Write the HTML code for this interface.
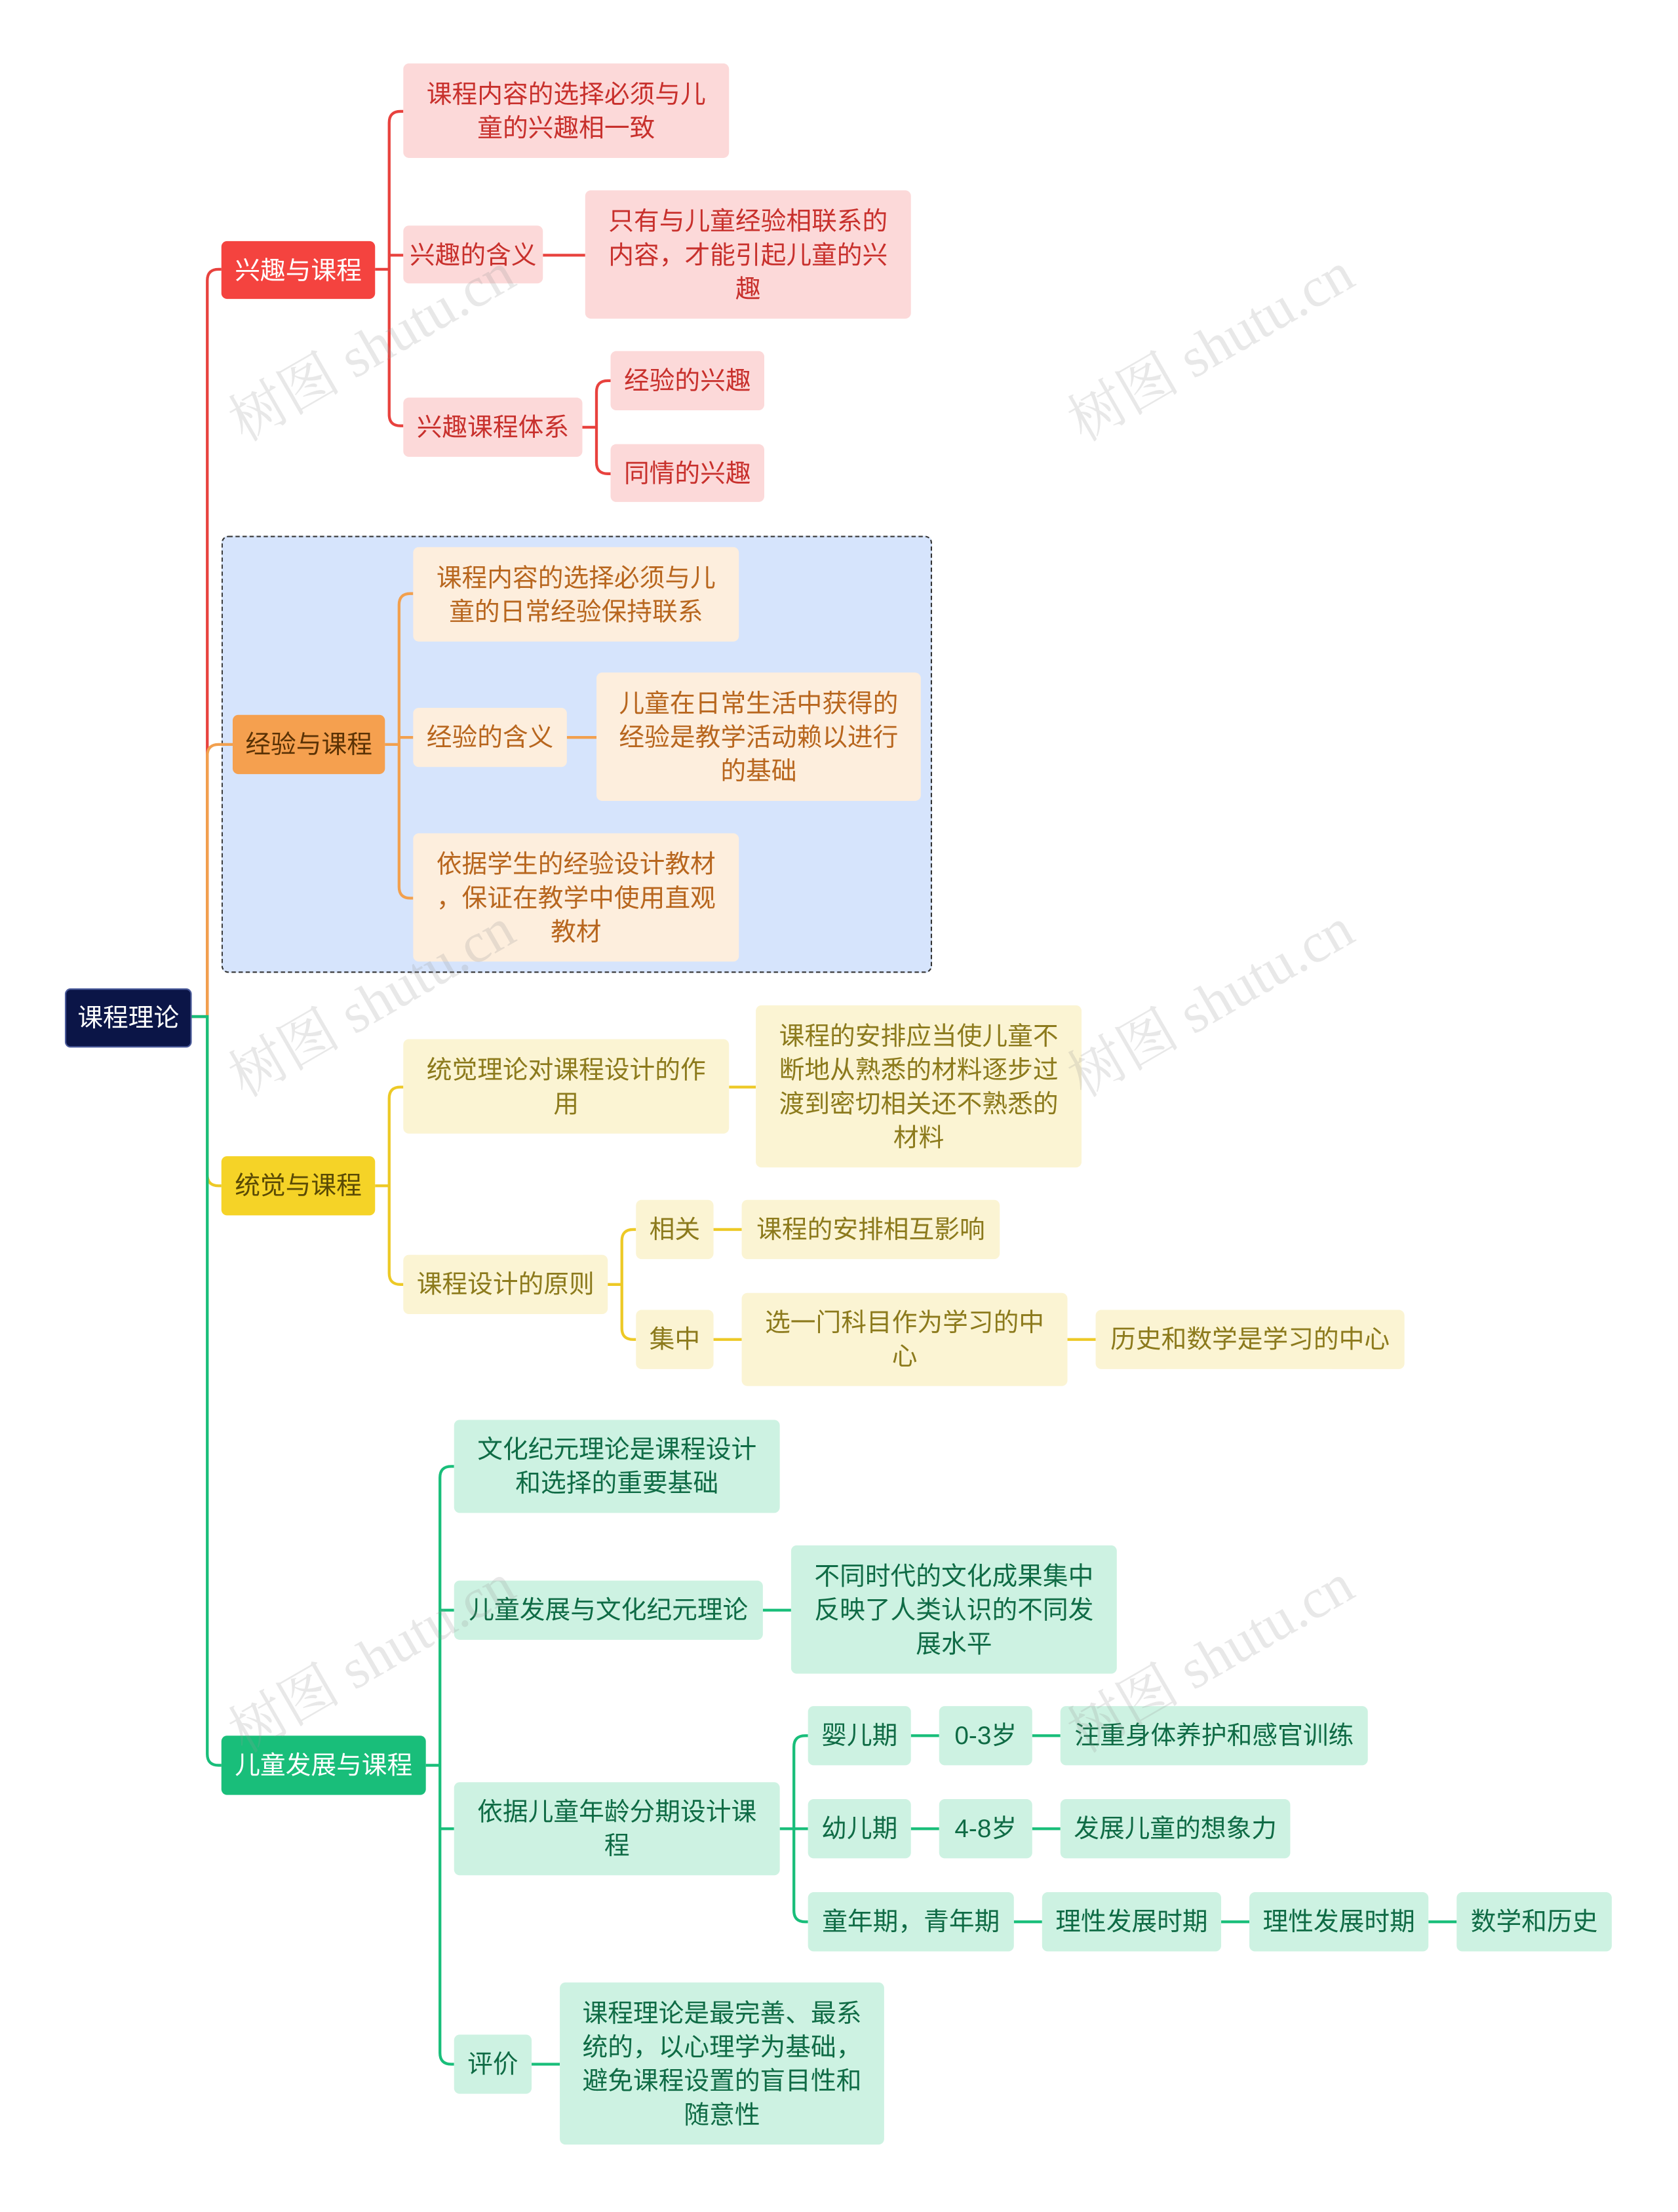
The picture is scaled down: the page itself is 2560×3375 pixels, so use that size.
<!DOCTYPE html>
<html><head><meta charset="utf-8"><style>
html,body{margin:0;padding:0;background:#fff;}
body{width:2560px;height:3375px;overflow:hidden;position:relative;}
#c{position:absolute;left:0;top:0;width:1190px;height:1569px;transform:scale(2.1513);transform-origin:0 0;font-family:"Liberation Sans","Noto Sans CJK SC",sans-serif;}
.n{position:absolute;box-sizing:border-box;display:flex;align-items:center;justify-content:center;text-align:center;font-size:18px;line-height:24px;border-radius:4px;padding:0 2px;white-space:nowrap;}
.r{background:#fcd9d9;color:#c8302c;}
.o{background:#fdeedd;color:#b8661e;}
.y{background:#fbf4d3;color:#8c7a1c;}
.g{background:#cdf2e2;color:#0f6b45;}
.wm{position:absolute;font-size:40px;color:rgba(150,150,150,0.22);transform:rotate(-30deg);white-space:nowrap;font-family:"Liberation Serif","Noto Serif CJK SC",serif;}
</style></head><body><div id="c">
<div style="position:absolute;left:157px;top:380px;width:504px;height:310px;box-sizing:border-box;background:#d6e4fc;border:1.5px dashed #333;border-radius:5px"></div>
<svg width="1190" height="1569" style="position:absolute;left:0;top:0" fill="none" stroke-width="2">
<g stroke="#e8423e">
<path d="M136,721 H147 V199 Q147,191 155,191 H157"/>
<path d="M266,191 H276"/>
<path d="M286,79 H284 Q276,79 276,87 V294 Q276,302 284,302 H286"/>
<path d="M276,181 H286"/>
<path d="M385,181 H415"/>
<path d="M413,303 H423"/>
<path d="M433,270 H431 Q423,270 423,278 V328 Q423,336 431,336 H433"/>
</g>
<g stroke="#f2a04e">
<path d="M147,721 V536 Q147,528 155,528 H165"/>
<path d="M273,528 H283"/>
<path d="M293,421 H291 Q283,421 283,429 V629 Q283,637 291,637 H293"/>
<path d="M283,523 H293"/>
<path d="M402,523 H423"/>
</g>
<g stroke="#edc926">
<path d="M147,721 V833 Q147,841 155,841 H157"/>
<path d="M266,841 H276"/>
<path d="M286,771 H284 Q276,771 276,779 V903 Q276,911 284,911 H286"/>
<path d="M517,771 H536"/>
<path d="M431,911 H441"/>
<path d="M451,872 H449 Q441,872 441,880 V942 Q441,950 449,950 H451"/>
<path d="M506,872 H526"/>
<path d="M506,950 H526"/>
<path d="M757,950 H777"/>
</g>
<g stroke="#19be7a">
<path d="M136,721 H147 V1244 Q147,1252 155,1252 H157"/>
<path d="M302,1252 H312"/>
<path d="M322,1040 H320 Q312,1040 312,1048 V1456 Q312,1464 320,1464 H322"/>
<path d="M312,1142 H322"/>
<path d="M541,1142 H561"/>
<path d="M312,1297 H322"/>
<path d="M553,1297 H563"/>
<path d="M573,1231 H571 Q563,1231 563,1239 V1355 Q563,1363 571,1363 H573"/>
<path d="M563,1297 H573"/>
<path d="M646,1231 H666 M732,1231 H752"/>
<path d="M646,1297 H666 M732,1297 H752"/>
<path d="M719,1363 H739 M866,1363 H886 M1013,1363 H1033"/>
<path d="M377,1464 H397"/>
</g>
</svg>

<div class="n" style="left:46px;top:701px;width:90px;height:42px;background:#0b1547;color:#fff;border:1px solid #4a5a9a">课程理论</div>

<div class="n" style="left:157px;top:171px;width:109px;height:41px;background:#f4433f;color:#fff">兴趣与课程</div>
<div class="n" style="left:165px;top:507px;width:108px;height:42px;background:#f5a04f;color:#5a3205">经验与课程</div>
<div class="n" style="left:157px;top:820px;width:109px;height:42px;background:#f5d327;color:#5a4a05">统觉与课程</div>
<div class="n" style="left:157px;top:1231px;width:145px;height:42px;background:#19be7a;color:#fff">儿童发展与课程</div>

<div class="n r" style="left:286px;top:45px;width:231px;height:67px">课程内容的选择必须与儿<br>童的兴趣相一致</div>
<div class="n r" style="left:286px;top:160px;width:99px;height:41px">兴趣的含义</div>
<div class="n r" style="left:415px;top:135px;width:231px;height:91px">只有与儿童经验相联系的<br>内容，才能引起儿童的兴<br>趣</div>
<div class="n r" style="left:286px;top:282px;width:127px;height:42px">兴趣课程体系</div>
<div class="n r" style="left:433px;top:249px;width:109px;height:42px">经验的兴趣</div>
<div class="n r" style="left:433px;top:315px;width:109px;height:41px">同情的兴趣</div>

<div class="n o" style="left:293px;top:388px;width:231px;height:67px">课程内容的选择必须与儿<br>童的日常经验保持联系</div>
<div class="n o" style="left:293px;top:502px;width:109px;height:42px">经验的含义</div>
<div class="n o" style="left:423px;top:477px;width:230px;height:91px">儿童在日常生活中获得的<br>经验是教学活动赖以进行<br>的基础</div>
<div class="n o" style="left:293px;top:591px;width:231px;height:91px">依据学生的经验设计教材<br>，保证在教学中使用直观<br>教材</div>

<div class="n y" style="left:286px;top:737px;width:231px;height:67px">统觉理论对课程设计的作<br>用</div>
<div class="n y" style="left:536px;top:713px;width:231px;height:115px">课程的安排应当使儿童不<br>断地从熟悉的材料逐步过<br>渡到密切相关还不熟悉的<br>材料</div>
<div class="n y" style="left:286px;top:890px;width:145px;height:42px">课程设计的原则</div>
<div class="n y" style="left:451px;top:851px;width:55px;height:42px">相关</div>
<div class="n y" style="left:526px;top:851px;width:183px;height:42px">课程的安排相互影响</div>
<div class="n y" style="left:451px;top:929px;width:55px;height:42px">集中</div>
<div class="n y" style="left:526px;top:917px;width:231px;height:66px">选一门科目作为学习的中<br>心</div>
<div class="n y" style="left:777px;top:929px;width:219px;height:42px">历史和数学是学习的中心</div>

<div class="n g" style="left:322px;top:1007px;width:231px;height:66px">文化纪元理论是课程设计<br>和选择的重要基础</div>
<div class="n g" style="left:322px;top:1121px;width:219px;height:42px">儿童发展与文化纪元理论</div>
<div class="n g" style="left:561px;top:1096px;width:231px;height:91px">不同时代的文化成果集中<br>反映了人类认识的不同发<br>展水平</div>
<div class="n g" style="left:322px;top:1264px;width:231px;height:66px">依据儿童年龄分期设计课<br>程</div>
<div class="n g" style="left:573px;top:1210px;width:73px;height:42px">婴儿期</div>
<div class="n g" style="left:666px;top:1210px;width:66px;height:42px">0-3岁</div>
<div class="n g" style="left:752px;top:1210px;width:218px;height:42px">注重身体养护和感官训练</div>
<div class="n g" style="left:573px;top:1276px;width:73px;height:42px">幼儿期</div>
<div class="n g" style="left:666px;top:1276px;width:66px;height:42px">4-8岁</div>
<div class="n g" style="left:752px;top:1276px;width:163px;height:42px">发展儿童的想象力</div>
<div class="n g" style="left:573px;top:1342px;width:146px;height:42px">童年期，青年期</div>
<div class="n g" style="left:739px;top:1342px;width:127px;height:42px">理性发展时期</div>
<div class="n g" style="left:886px;top:1342px;width:127px;height:42px">理性发展时期</div>
<div class="n g" style="left:1033px;top:1342px;width:110px;height:42px">数学和历史</div>
<div class="n g" style="left:322px;top:1443px;width:55px;height:42px">评价</div>
<div class="n g" style="left:397px;top:1406px;width:230px;height:115px">课程理论是最完善、最系<br>统的，以心理学为基础，<br>避免课程设置的盲目性和<br>随意性</div>

<div class="wm" style="left:150px;top:215px">树图 shutu.cn</div>
<div class="wm" style="left:745px;top:215px">树图 shutu.cn</div>
<div class="wm" style="left:150px;top:680px">树图 shutu.cn</div>
<div class="wm" style="left:745px;top:680px">树图 shutu.cn</div>
<div class="wm" style="left:150px;top:1145px">树图 shutu.cn</div>
<div class="wm" style="left:745px;top:1145px">树图 shutu.cn</div>
</div></body></html>
